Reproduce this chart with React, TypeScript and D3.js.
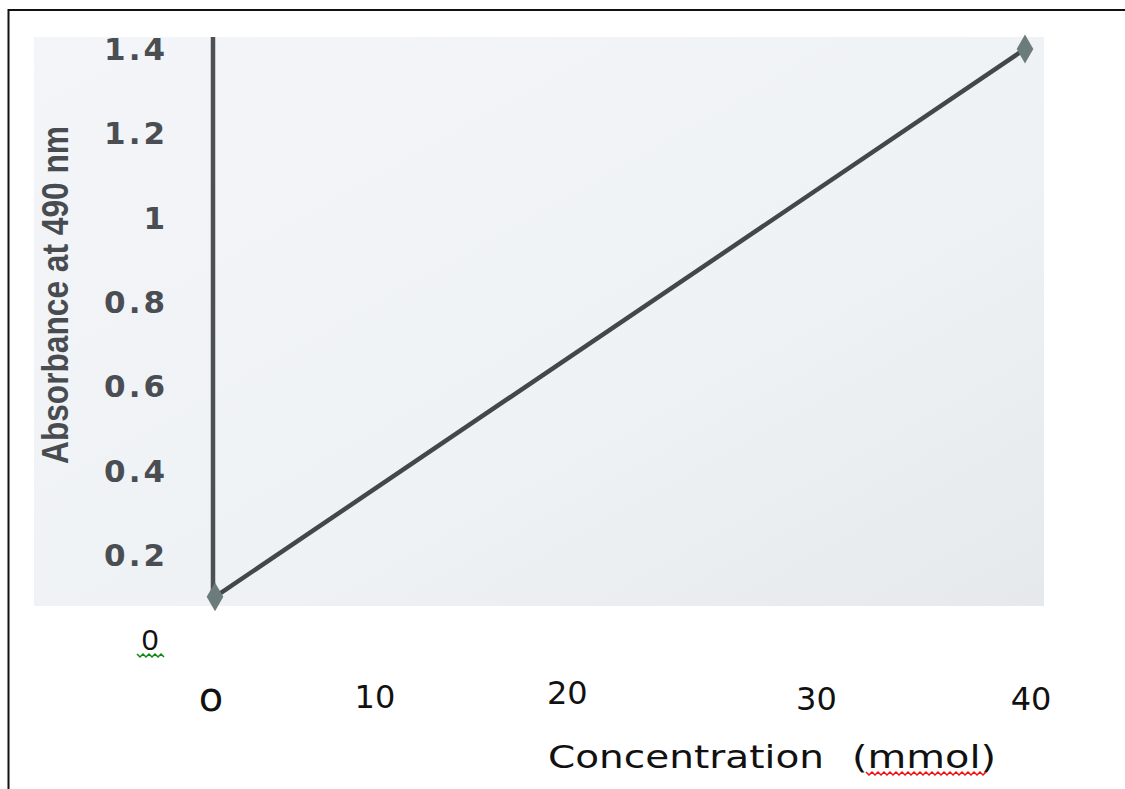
import React, { useEffect, useRef } from "react";
import * as d3 from "d3";

// calibration points
const concentration = [0, 40];
const absorbance = [0.1, 1.4];

const yTicks = [0.2, 0.4, 0.6, 0.8, 1, 1.2, 1.4];
const yTickLabels = ["0.2", "0.4", "0.6", "0.8", "1", "1.2", "1.4"];

// the x labels in the original sit where they were typed, not exactly on the values
const xTickLabels = ["o", "10", "20", "30", "40"];
const xTickAt = [-0.2, 7.9, 17.4, 29.7, 40.3];

export default function App() {
  const ref = useRef<SVGSVGElement>(null);

  useEffect(() => {
    const svg = d3.select(ref.current);
    svg.selectAll("*").remove();

    const x = d3.scaleLinear().domain([0, 40]).range([215, 1025]);
    const y = d3.scaleLinear().domain([0, 1.4]).range([639, 49]);

    // frame
    svg.append("line").attr("x1", 8.5).attr("x2", 8.5).attr("y1", 9).attr("y2", 789)
      .attr("stroke", "#111").attr("stroke-width", 2);
    svg.append("line").attr("x1", 8).attr("x2", 1125).attr("y1", 10).attr("y2", 10)
      .attr("stroke", "#111").attr("stroke-width", 2);

    // grey plot backdrop
    const grad = svg.append("defs").append("linearGradient").attr("id", "bg")
      .attr("x1", 0).attr("y1", 0).attr("x2", 1).attr("y2", 1);
    grad.append("stop").attr("offset", "0%").attr("stop-color", "#f3f5f8");
    grad.append("stop").attr("offset", "60%").attr("stop-color", "#eff2f5");
    grad.append("stop").attr("offset", "100%").attr("stop-color", "#e6e9ec");
    svg.append("rect").attr("x", 34).attr("y", 37).attr("width", 1010).attr("height", 569)
      .attr("fill", "url(#bg)");

    // y axis bar
    svg.append("line").attr("x1", x(0) - 2).attr("x2", x(0) - 2)
      .attr("y1", 37).attr("y2", y(absorbance[0]))
      .attr("stroke", "#4c5053").attr("stroke-width", 4.5);

    // y tick labels
    svg.append("g").selectAll("text").data(yTicks).enter().append("text")
      .attr("x", 168)
      .attr("y", (d) => y(d))
      .attr("dy", "0.36em")
      .attr("text-anchor", "end")
      .attr("font-family", "DejaVu Sans, sans-serif")
      .attr("font-weight", "bold")
      .attr("font-size", 31)
      .attr("letter-spacing", 3)
      .attr("fill", "#4a4e52")
      .text((d, i) => yTickLabels[i]);

    // y title
    svg.append("text")
      .attr("transform", "translate(68,295) rotate(-90)")
      .attr("text-anchor", "middle")
      .attr("font-family", "Liberation Sans, sans-serif")
      .attr("font-weight", "bold")
      .attr("font-size", 36)
      .attr("textLength", 338)
      .attr("lengthAdjust", "spacingAndGlyphs")
      .attr("fill", "#484c50")
      .text("Absorbance at 490 nm");

    // data line
    const pts = concentration.map((c, i) => [x(c), y(absorbance[i])] as [number, number]);
    svg.append("path")
      .attr("d", d3.line()(pts))
      .attr("fill", "none")
      .attr("stroke", "#42474b")
      .attr("stroke-width", 4.5);

    svg.append("g").selectAll("path").data(pts).enter().append("path")
      .attr("transform", (d) => `translate(${d[0]},${d[1]})`)
      .attr("d", d3.symbol(d3.symbolDiamond, 240)())
      .attr("fill", "#6c7b7b");

    // stray "0" with green squiggle
    svg.append("text")
      .attr("x", 150).attr("y", 639).attr("dy", "0.36em")
      .attr("text-anchor", "middle")
      .attr("font-family", "Liberation Sans, sans-serif")
      .attr("font-size", 30)
      .attr("fill", "#111")
      .text("0");
    const sq = (x0: number, x1: number, yy: number) => {
      let d = `M${x0},${yy}`;
      for (let xx = x0, k = 0; xx < x1; xx += 3, k++) d += ` L${xx + 3},${yy + (k % 2 === 0 ? 3 : 0)}`;
      return d;
    };
    svg.append("path").attr("d", sq(137, 163, 654)).attr("fill", "none")
      .attr("stroke", "#118811").attr("stroke-width", 1.5);

    // x tick labels
    svg.append("g").selectAll("text").data(xTickLabels).enter().append("text")
      .attr("x", (d, i) => x(xTickAt[i]))
      .attr("y", (d, i) => (i === 0 ? 711 : i === 1 ? 708 : i === 2 ? 704 : 710))
      .attr("text-anchor", "middle")
      .attr("font-family", "DejaVu Sans, sans-serif")
      .attr("font-size", (d, i) => (i === 0 ? 40 : 32))
      .attr("fill", "#111")
      .text((d) => d);

    // x title
    svg.append("text")
      .attr("x", 548).attr("y", 768)
      .attr("font-family", "DejaVu Sans, sans-serif")
      .attr("font-size", 32)
      .attr("textLength", 276)
      .attr("lengthAdjust", "spacingAndGlyphs")
      .attr("fill", "#111")
      .text("Concentration");
    svg.append("text")
      .attr("x", 852).attr("y", 768)
      .attr("font-family", "DejaVu Sans, sans-serif")
      .attr("font-size", 32)
      .attr("textLength", 144)
      .attr("lengthAdjust", "spacingAndGlyphs")
      .attr("fill", "#111")
      .text("(mmol)");
    svg.append("path").attr("d", sq(866, 985, 772)).attr("fill", "none")
      .attr("stroke", "#ee1111").attr("stroke-width", 1.5);
  }, []);

  return (
    <svg
      ref={ref}
      width={1125}
      height={789}
      style={{ position: "fixed", left: 0, top: 0, background: "#fff" }}
    />
  );
}
